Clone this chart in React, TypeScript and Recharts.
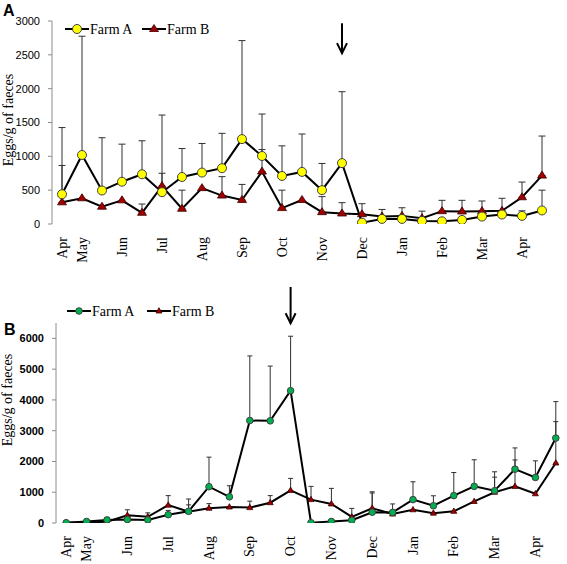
import React from 'react';
import { LineChart, Line, XAxis, YAxis, ErrorBar, ReferenceLine } from 'recharts';

const SERIF = 'Times New Roman, Liberation Serif, Tinos, DejaVu Serif, serif';
const SANS = 'Arial, Liberation Sans, sans-serif';

// month labels under every second sampling point
const monthTicks = ['Apr', 'May', '', 'Jun', '', 'Jul', '', 'Aug', '', 'Sep', '', 'Oct', '', 'Nov', '', 'Dec', '', 'Jan', '', 'Feb', '', 'Mar', '', 'Apr', ''];

// Panel A - means and top of error bar (null = no bar visible)
const aFarmA = [440, 1020, 495, 625, 735, 470, 695, 760, 825, 1255, 1005, 710, 770, 500, 900, 20, 75, 75, 45, 40, 60, 110, 140, 120, 200];
const aFarmATop = [1425, 2775, 1275, 1180, 1230, 1610, 1115, 1190, 1340, 2710, 1625, 1155, 1330, 895, 1955, null, null, null, null, null, null, null, null, 195, 500];
const aFarmB = [320, 380, 255, 350, 165, 560, 225, 530, 420, 355, 775, 235, 355, 175, 155, 145, 110, 120, 85, 190, 185, 190, 195, 395, 715];
const aFarmBTop = [865, null, null, null, 295, 750, 500, null, 700, 585, 1100, 500, null, 405, 315, 300, 215, 240, 190, 350, 350, 340, 380, 620, 1300];

// Panel B
const bFarmA = [10, 50, 100, 110, 100, 270, 380, 1180, 850, 3330, 3320, 4300, 10, 50, 90, 350, 345, 760, 560, 890, 1190, 1050, 1750, 1480, 2760];
const bFarmATop = [null, null, 170, null, null, 410, 780, 2140, 1210, 5430, 5100, 6070, null, null, null, 1015, null, 1340, 885, 1640, 2055, 1665, 2440, 2020, 3945];
const bFarmB = [5, 20, 40, 250, 200, 580, 370, 480, 520, 500, 660, 1060, 760, 620, 200, 480, 290, 430, 320, 380, 700, 1000, 1190, 950, 1950];
const bFarmBTop = [null, null, null, 430, 330, 890, 590, 630, null, 710, 890, 1450, 1190, 1125, 475, 975, 620, null, null, null, null, 1490, 2050, null, 3295];

const yTicksA = [0, 500, 1000, 1500, 2000, 2500, 3000];
const yTicksB = [0, 1000, 2000, 3000, 4000, 5000, 6000];

const buildRows = (a: number[], aTop: (number | null)[], b: number[], bTop: (number | null)[]) =>
  a.map((v, i) => ({
    i,
    a: v,
    b: b[i],
    aErr: aTop[i] == null ? null : [0, (aTop[i] as number) - v],
    bErr: bTop[i] == null ? null : [0, (bTop[i] as number) - b[i]],
  }));

const rowsA = buildRows(aFarmA, aFarmATop, aFarmB, aFarmBTop);
const rowsB = buildRows(bFarmA, bFarmATop, bFarmB, bFarmBTop);

const halfTicks = monthTicks.map((_, i) => i - 0.5).concat([monthTicks.length - 0.5]);
const catTicks = monthTicks.map((_, i) => i);

const MonthTick = (props: any) => {
  const { x, y, payload } = props;
  return (
    <text
      x={x}
      y={y}
      dy="0.33em"
      transform={`rotate(-90 ${x} ${y})`}
      textAnchor="end"
      style={{ fontFamily: SERIF, fontSize: 14 }}
      fill="#000"
    >
      {monthTicks[payload.value]}
    </text>
  );
};

const triangle = (half: number, up: number, down: number) => (p: any) => {
  const { cx, cy, index } = p;
  if (cx == null || cy == null) return <g key={`t-${index}`} />;
  return (
    <path
      key={`t-${index}`}
      d={`M${cx},${cy - up} L${cx - half},${cy + down} L${cx + half},${cy + down} Z`}
      fill="#A00000"
      stroke="#3a0000"
      strokeWidth={0.8}
    />
  );
};

const arrowShape = (p: any) => {
  const { x1, y1, x2, y2 } = p;
  const x = x1;
  const top = Math.min(y1, y2);
  const bottom = Math.max(y1, y2);
  return (
    <g>
      <line x1={x} y1={top} x2={x} y2={bottom} stroke="#000" strokeWidth={2} />
      <polyline points={`${x - 5},${bottom - 10} ${x},${bottom} ${x + 5},${bottom - 10}`} fill="none" stroke="#000" strokeWidth={2} />
    </g>
  );
};

interface PanelProps {
  rows: any[];
  yMax: number;
  yTicks: number[];
  yWidth: number;
  yFont: any;
  margin: any;
  height: number;
  labHeight: number;
  colorA: string;
  rA: number;
  tri: [number, number, number];
  cap: number;
  arrowAt: number;
  arrowFrom: number;
  arrowTo: number;
}

const Panel: React.FC<PanelProps> = (p) => (
  <LineChart width={567} height={p.height} data={p.rows} margin={p.margin}>
    <XAxis
      xAxisId="m"
      dataKey="i"
      type="number"
      domain={[-0.5, 24.5]}
      ticks={halfTicks}
      interval={0}
      tickFormatter={() => ''}
      height={0}
      tickSize={4}
      stroke="#8c8c8c"
    />
    <XAxis
      xAxisId="lab"
      dataKey="i"
      type="number"
      domain={[-0.5, 24.5]}
      ticks={catTicks}
      interval={0}
      axisLine={false}
      tickLine={false}
      tickSize={0}
      tickMargin={13}
      height={p.labHeight}
      tick={<MonthTick />}
    />
    <YAxis
      domain={[0, p.yMax]}
      ticks={p.yTicks}
      interval={0}
      width={p.yWidth}
      stroke="#8c8c8c"
      tickSize={4}
      tickMargin={8}
      tick={{ fill: '#000', style: { fontFamily: SANS, ...p.yFont } }}
      allowDataOverflow
    />
    {/* error bars go first so the lines and markers sit on top */}
    <Line xAxisId="m" dataKey="a" stroke="none" dot={false} activeDot={false} isAnimationActive={false} legendType="none">
      <ErrorBar dataKey="aErr" direction="y" width={p.cap} stroke="#303030" strokeWidth={1} />
    </Line>
    <Line xAxisId="m" dataKey="b" stroke="none" dot={false} activeDot={false} isAnimationActive={false} legendType="none">
      <ErrorBar dataKey="bErr" direction="y" width={p.cap} stroke="#303030" strokeWidth={1} />
    </Line>
    <Line
      xAxisId="m"
      dataKey="b"
      type="linear"
      stroke="#000"
      strokeWidth={2}
      dot={triangle(p.tri[0], p.tri[1], p.tri[2])}
      activeDot={false}
      isAnimationActive={false}
    />
    <Line
      xAxisId="m"
      dataKey="a"
      type="linear"
      stroke="#000"
      strokeWidth={2}
      dot={{ r: p.rA, fill: p.colorA, stroke: '#404040', strokeWidth: 1 }}
      activeDot={false}
      isAnimationActive={false}
    />
    <ReferenceLine
      xAxisId="m"
      segment={[{ x: p.arrowAt, y: p.arrowFrom }, { x: p.arrowAt, y: p.arrowTo }]}
      ifOverflow="visible"
      shape={arrowShape}
    />
  </LineChart>
);

const LegendItem = ({ x, y, color, r, kind, label, tri }: any) => (
  <g>
    <line x1={x} y1={y} x2={x + 24} y2={y} stroke="#000" strokeWidth={2} />
    {kind === 'circle' ? (
      <circle cx={x + 12} cy={y} r={r} fill={color} stroke="#404040" strokeWidth={1} />
    ) : (
      <path d={`M${x + 12},${y - tri[1]} L${x + 12 - tri[0]},${y + tri[2]} L${x + 12 + tri[0]},${y + tri[2]} Z`} fill="#A00000" stroke="#3a0000" strokeWidth={0.8} />
    )}
    <text x={x + 25} y={y} dy="0.33em" style={{ fontFamily: SERIF, fontSize: 14 }} fill="#000">
      {label}
    </text>
  </g>
);

export default function App() {
  return (
    <div style={{ position: 'absolute', left: 0, top: 0, width: 567, height: 564, background: '#fff' }}>
      <div style={{ position: 'absolute', left: 0, top: 0 }}>
        <Panel
          rows={rowsA}
          yMax={3000}
          yTicks={yTicksA}
          yWidth={40}
          yFont={{ fontSize: 11 }}
          margin={{ top: 21, right: 15, left: 12, bottom: 6 }}
          height={280}
          labHeight={50}
          colorA="#FFFF00"
          rA={4.5}
          tri={[4.5, 4.5, 2.5]}
          cap={3.5}
          arrowAt={14}
          arrowFrom={2525}
          arrowTo={2965}
        />
      </div>
      <div style={{ position: 'absolute', left: 0, top: 280 }}>
        <Panel
          rows={rowsB}
          yMax={6500}
          yTicks={yTicksB}
          yWidth={44}
          yFont={{ fontSize: 11, fontWeight: 'bold' }}
          margin={{ top: 43, right: 1, left: 12, bottom: 1 }}
          height={284}
          labHeight={40}
          colorA="#00B050"
          rA={3.3}
          tri={[3, 3.3, 2]}
          cap={2.5}
          arrowAt={11}
          arrowFrom={6490}
          arrowTo={7670}
        />
      </div>
      <svg width={567} height={564} style={{ position: 'absolute', left: 0, top: 0, pointerEvents: 'none' }}>
        <text x={3} y={16} style={{ fontFamily: SANS, fontWeight: 'bold', fontSize: 16 }} fill="#000">A</text>
        <text x={4} y={335} style={{ fontFamily: SANS, fontWeight: 'bold', fontSize: 16 }} fill="#000">B</text>
        <text x={8} y={120} dy="0.33em" transform="rotate(-90 8 120)" textAnchor="middle" style={{ fontFamily: SERIF, fontSize: 14 }} fill="#000">
          Eggs/g of faeces
        </text>
        <text x={7} y={400} dy="0.33em" transform="rotate(-90 7 400)" textAnchor="middle" style={{ fontFamily: SERIF, fontSize: 14 }} fill="#000">
          Eggs/g of faeces
        </text>
        <LegendItem x={65} y={29} kind="circle" color="#FFFF00" r={4.5} label="Farm A" />
        <LegendItem x={142} y={29} kind="tri" tri={[4.5, 4.5, 2.5]} label="Farm B" />
        <LegendItem x={67} y={311} kind="circle" color="#00B050" r={3.3} label="Farm A" />
        <LegendItem x={147} y={311} kind="tri" tri={[3, 3.3, 2]} label="Farm B" />
      </svg>
    </div>
  );
}
